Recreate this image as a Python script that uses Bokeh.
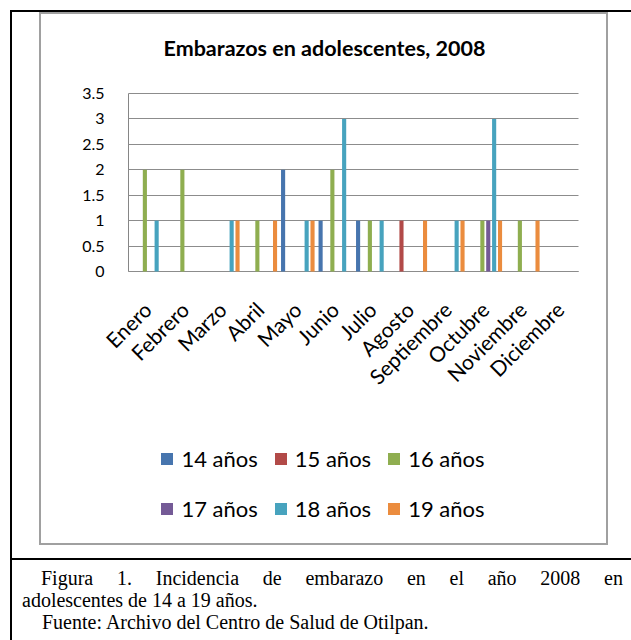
import math
from bokeh.plotting import figure
from bokeh.models import (Range1d, FixedTicker, NumeralTickFormatter, Legend,
                          LegendItem, ColumnDataSource, Spacer, Div, Label)
from bokeh.layouts import row, column
from bokeh.transform import dodge
from bokeh.embed import file_html
from bokeh.resources import INLINE

# ---------------- data ----------------
months = ["Enero", "Febrero", "Marzo", "Abril", "Mayo", "Junio", "Julio",
          "Agosto", "Septiembre", "Octubre", "Noviembre", "Diciembre"]
series_names = ["14 años", "15 años", "16 años", "17 años", "18 años", "19 años"]
a14 = [0, 0, 0, 0, 2, 1, 1, 0, 0, 0, 0, 0]
a15 = [0, 0, 0, 0, 0, 0, 0, 1, 0, 0, 0, 0]
a16 = [2, 2, 0, 1, 0, 2, 1, 0, 0, 1, 1, 0]
a17 = [0, 0, 0, 0, 0, 0, 0, 0, 0, 1, 0, 0]
a18 = [1, 0, 1, 0, 1, 3, 1, 0, 1, 3, 0, 0]
a19 = [0, 0, 1, 1, 1, 0, 0, 1, 1, 1, 1, 0]
yticks = [0, 0.5, 1, 1.5, 2, 2.5, 3, 3.5]
y_max = 3.5
title_text = "Embarazos en adolescentes, 2008"
caption_line1 = "Figura 1. Incidencia de embarazo en el año 2008 en"
caption_line2 = "adolescentes de 14 a 19 años."
caption_line3 = "Fuente: Archivo del Centro de Salud de Otilpan."

colors = ["#4775AE", "#B24A48", "#8FAE50", "#745A96", "#47A3BE", "#EB8C3E"]
cols = ["a14", "a15", "a16", "a17", "a18", "a19"]

# month slots on a numeric axis: month k occupies [k, k+1]
pos = [k + 0.5 for k in range(len(months))]
source = ColumnDataSource(dict(pos=pos, month=months, a14=a14, a15=a15, a16=a16,
                               a17=a17, a18=a18, a19=a19))

FONT = "Lato"

# ---- geometry (pixels inside the figure canvas; the frame fills the canvas) ----
CANVAS_W, CANVAS_H = 565, 529
PLOT_LEFT, PLOT_RIGHT = 87, 537       # where the month axis starts / ends
PLOT_TOP, PLOT_BOTTOM = 79, 257       # where 3.5 and 0 sit
px_per_unit = (PLOT_BOTTOM - PLOT_TOP) / y_max
cat_px = (PLOT_RIGHT - PLOT_LEFT) / len(months)
x_lo = -PLOT_LEFT / cat_px
x_hi = len(months) + (CANVAS_W - PLOT_RIGHT) / cat_px
y_hi = y_max + PLOT_TOP / px_per_unit
y_lo = -(CANVAS_H - PLOT_BOTTOM) / px_per_unit

p = figure(width=CANVAS_W, height=CANVAS_H, title=None,
           x_range=Range1d(x_lo, x_hi), y_range=Range1d(y_lo, y_hi),
           output_backend="svg", toolbar_location=None,
           min_border_left=0, min_border_right=0,
           min_border_top=0, min_border_bottom=0)
p.background_fill_color = "white"
p.border_fill_color = "white"
p.outline_line_color = None
p.grid.visible = False

renderers = []
slot = 0.157
for i, (c, color) in enumerate(zip(cols, colors)):
    r = p.vbar(x=dodge("pos", (i - 2.5) * slot + 0.015), top=c, width=0.11,
               source=source, fill_color=color, line_color=None, level="overlay")
    renderers.append(r)

GRID = "#8C8C8C"
# value axis: fixed at the left edge of the months, its ticks run across as gridlines
p.yaxis.fixed_location = 0
p.yaxis.bounds = (0, y_max)
p.yaxis.ticker = FixedTicker(ticks=yticks)
p.yaxis.formatter = NumeralTickFormatter(format="0.[0]")
p.yaxis.major_label_text_font = FONT
p.yaxis.major_label_text_font_size = "16px"
p.yaxis.major_label_text_color = "black"
p.yaxis.major_tick_in = PLOT_RIGHT - PLOT_LEFT
p.yaxis.major_tick_out = 0
p.yaxis.major_tick_line_color = GRID
p.yaxis.minor_tick_line_color = None
p.yaxis.axis_line_color = "#868686"
p.yaxis.major_label_standoff = 24

# month axis fixed at 0
p.xaxis.fixed_location = 0
p.xaxis.bounds = (0, len(months))
p.xaxis.ticker = FixedTicker(ticks=pos)
p.xaxis.major_label_overrides = {k: m for k, m in zip(pos, months)}
p.xaxis.major_label_orientation = math.pi / 4
p.xaxis.major_label_text_font = FONT
p.xaxis.major_label_text_font_size = "21px"
p.xaxis.major_label_text_color = "black"
p.xaxis.major_tick_line_color = None
p.xaxis.minor_tick_line_color = None
p.xaxis.axis_line_color = "#868686"
p.xaxis.major_label_standoff = 28

# title
title_cx, title_cy = 283, 33          # canvas px
p.add_layout(Label(x=x_lo + title_cx / cat_px, y=y_max + (PLOT_TOP - title_cy) / px_per_unit,
                   text=title_text, text_font=FONT, text_font_style="bold",
                   text_font_size="21.5px", text_color="black",
                   text_align="center", text_baseline="middle"))


# legends (two rows)
def make_legend(idx, loc):
    leg = Legend(items=[LegendItem(label=series_names[i], renderers=[renderers[i]]) for i in idx],
                 orientation="horizontal", location=loc,
                 label_text_font=FONT, label_text_font_size="22px", label_text_color="black",
                 glyph_width=15, glyph_height=15, label_height=15, label_standoff=7, spacing=15,
                 padding=0, margin=0, border_line_color=None, background_fill_alpha=0)
    p.add_layout(leg)


make_legend([0, 1, 2], (118.4, 71))
make_legend([3, 4, 5], (118.4, 21))


# ---------------- page decorations (table lines, chart frame, caption) ----------------
def bar(w, h, color=None):
    styles = {"background-color": color} if color else {}
    return Spacer(width=w, height=h, styles=styles)


BLACK = "#000000"
GRAY = "#A0A0A0"

caption_html = (
    '<div style="font-family:\'Liberation Serif\',\'Times New Roman\',serif;font-size:20px;'
    'line-height:22px;color:#000;padding-top:2px;margin:0;">'
    '<div style="margin-left:24px;width:582px;text-align:justify;text-align-last:justify;'
    'white-space:nowrap;">' + caption_line1 + '</div>'
    '<div style="margin-left:5px;">' + caption_line2 + '</div>'
    '<div style="margin-left:25px;">' + caption_line3 + '</div>'
    '</div>'
)
caption = Div(text=caption_html, width=619, height=80)

chart_box = row(
    bar(27, 533),
    bar(2, 533, GRAY),
    column(bar(565, 2, GRAY), p, bar(565, 2, GRAY)),
    bar(2, 533, GRAY),
)

inner = column(
    chart_box,
    bar(619, 13),
    bar(619, 2, BLACK),
    caption,
)

root = row(
    bar(10, 640),
    column(
        bar(621, 10),
        bar(621, 2, BLACK),
        row(bar(2, 628, BLACK), inner),
    ),
)

open("out.html", "w").write(file_html(root, INLINE))
